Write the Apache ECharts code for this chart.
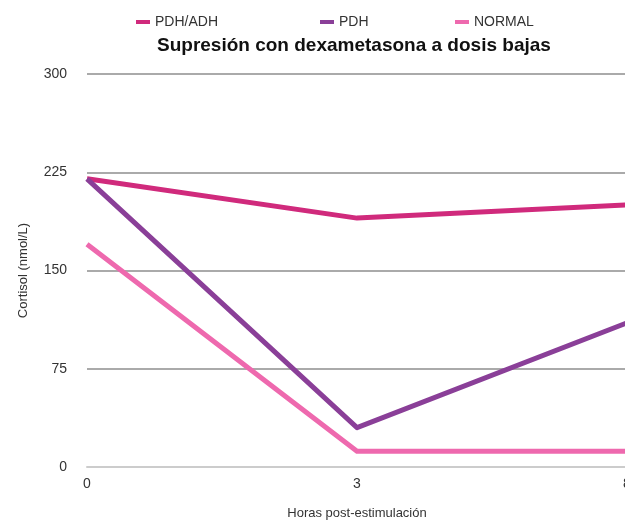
<!DOCTYPE html>
<html>
<head>
<meta charset="utf-8">
<script src="https://cdn.jsdelivr.net/npm/echarts@6/dist/echarts.min.js"></script>
<style>
  html, body { margin: 0; padding: 0; background: #fff; }
  #chart { width: 625px; height: 521px; }
</style>
</head>
<body>
<div id="chart"></div>
<script>
// horas post-estimulación
const hours = ['0', '3', '8'];
const seriesNames = ['PDH/ADH', 'PDH', 'NORMAL'];
const pdhAdh = [220, 190, 200];
const pdh = [220, 30, 110];
const normal = [170, 12, 12];
const yTicks = [0, 75, 150, 225, 300];

const colors = ['#D02A7C', '#8A3F98', '#EE69AE'];

const font = 'Helvetica, Arial, "Liberation Sans", sans-serif';

const chart = echarts.init(document.getElementById('chart'), null, {
  renderer: 'canvas',
  width: 625,
  height: 521,
});

function line(name, data, color) {
  return {
    name: name,
    type: 'line',
    data: data,
    symbol: 'none',
    lineStyle: { color: color, width: 5, join: 'round' },
    itemStyle: { color: color },
  };
}

// one legend per item so the spacing matches the original
const legendLeft = [131, 315, 450];
const legends = seriesNames.map((name, i) => ({
  top: 10,
  left: legendLeft[i],
  itemWidth: 14,
  itemHeight: 4,
  icon: 'rect',
  textStyle: { fontSize: 14, color: '#333', fontFamily: font },
  data: [name],
}));

const option = {
  backgroundColor: '#ffffff',
  animation: false,
  textStyle: { fontFamily: font },
  title: {
    text: 'Supresión con dexametasona a dosis bajas',
    left: 152,
    top: 31,
    textStyle: { fontSize: 19, fontWeight: 'bold', color: '#111', fontFamily: font },
  },
  legend: legends,
  grid: {
    left: 87,
    top: 74,
    width: 540,
    height: 393,
    containLabel: false,
    outerBoundsMode: 'none',
  },
  xAxis: {
    type: 'category',
    data: hours,
    boundaryGap: false,
    name: 'Horas post-estimulación',
    nameLocation: 'middle',
    nameGap: 40,
    nameTextStyle: { fontSize: 13, color: '#333' },
    axisLine: { show: true, lineStyle: { color: '#cccccc', width: 2 } },
    axisTick: { show: false },
    axisLabel: { fontSize: 14, color: '#333', margin: 10 },
    splitLine: { show: false },
  },
  yAxis: {
    type: 'value',
    min: yTicks[0],
    max: yTicks[yTicks.length - 1],
    interval: 75,
    name: 'Cortisol (nmol/L)',
    nameLocation: 'middle',
    nameGap: 57,
    nameTextStyle: { fontSize: 13, color: '#333' },
    axisLine: { show: false },
    axisTick: { show: false },
    axisLabel: { fontSize: 14, color: '#333', margin: 20 },
    splitLine: { show: true, lineStyle: { color: '#aaaaaa', width: 2 } },
  },
  series: [
    line(seriesNames[0], pdhAdh, colors[0]),
    line(seriesNames[1], pdh, colors[1]),
    line(seriesNames[2], normal, colors[2]),
  ],
};

chart.setOption(option);
</script>
</body>
</html>
